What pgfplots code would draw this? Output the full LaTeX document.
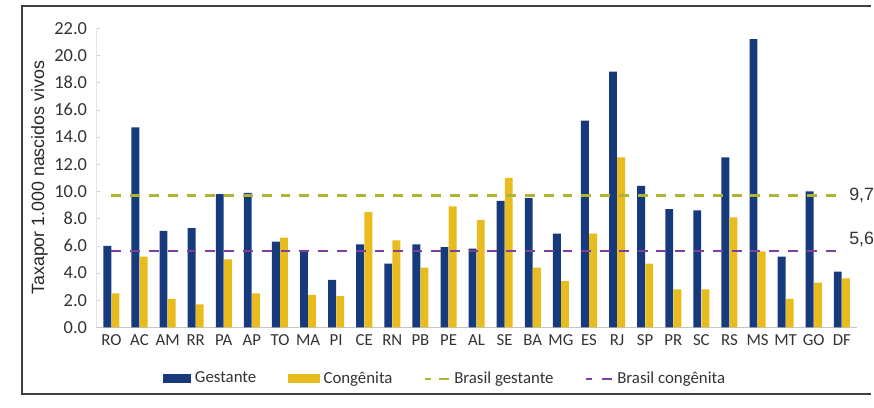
\documentclass[border=0pt]{standalone}
\usepackage{fontspec}
\setmainfont{Carlito}
\newfontfamily\arialf{Liberation Sans}
\usepackage{pgfplots}
\pgfplotsset{compat=1.18}

\definecolor{gestblue}{RGB}{22,58,124}
\definecolor{congyel}{RGB}{232,188,30}
\definecolor{brgest}{RGB}{176,180,52}
\definecolor{brcong}{RGB}{124,64,158}

% taxa por 1.000 nascidos vivos, por UF
\pgfplotstableread{
x uf gest cong
0  RO 6.0  2.5
1  AC 14.7 5.2
2  AM 7.1  2.1
3  RR 7.3  1.7
4  PA 9.8  5.0
5  AP 9.9  2.5
6  TO 6.3  6.6
7  MA 5.6  2.4
8  PI 3.5  2.3
9  CE 6.1  8.5
10 RN 4.7  6.4
11 PB 6.1  4.4
12 PE 5.9  8.9
13 AL 5.8  7.9
14 SE 9.3  11.0
15 BA 9.5  4.4
16 MG 6.9  3.4
17 ES 15.2 6.9
18 RJ 18.8 12.5
19 SP 10.4 4.7
20 PR 8.7  2.8
21 SC 8.6  2.8
22 RS 12.5 8.1
23 MS 21.2 5.6
24 MT 5.2  2.1
25 GO 10.0 3.3
26 DF 4.1  3.6
}\dados

\begin{document}
\begin{tikzpicture}
\begin{axis}[
  scale only axis,
  width=384.8pt, height=151.25pt,
  at={(48.5pt,40.5pt)}, anchor=south west,
  xmin=-0.55, xmax=26.55,
  ymin=0, ymax=22,
  ytick={0,2,...,22},
  xtick=data,
  xticklabels from table={\dados}{uf},
  axis x line*=bottom,
  axis y line*=left,
  x axis line style={draw=gray!45},
  y axis line style={draw=gray!20},
  major tick length=2pt,
  xtick style={draw=none},
  ytick style={draw=gray!35},
  tick label style={font=\fontsize{8.5}{10}\selectfont, text=black!80},
  yticklabel style={font=\fontsize{9.3}{11}\selectfont, xshift=-1pt,
    /pgf/number format/.cd, fixed, fixed zerofill, precision=1, assume math mode=true},
  ylabel={\arialf Taxapor 1.000 nascidos vivos},
  ylabel style={font=\fontsize{9}{11}\selectfont, text=black!85,
    at={(axis description cs:-0.074,0.5)}, anchor=center},
  bar width=0.28,
  legend columns=4,
  legend style={at={(0.46,-0.172)}, anchor=center, draw=none, fill=none,
    font=\fontsize{8.5}{10}\selectfont, text=black!80,
    /tikz/every even column/.append style={column sep=14pt}},
  legend cell align=left,
  clip=false,
]
\addplot[ybar, bar shift=-0.145, fill=gestblue, draw=none,
  legend image code/.code={\fill[gestblue] (0pt,-2.3pt) rectangle (14pt,2.3pt);}]
  table[x=x, y=gest] {\dados};
\addlegendentry{Gestante}
\addplot[ybar, bar shift=0.145, fill=congyel, draw=none,
  legend image code/.code={\fill[congyel] (0pt,-2.3pt) rectangle (16pt,2.3pt);}]
  table[x=x, y=cong] {\dados};
\addlegendentry{Congênita}
\addplot[brgest, line width=1.2pt, dash pattern=on 5pt off 4.5pt,
  legend image code/.code={\draw[brgest, line width=1.2pt] (0pt,0pt) -- (3pt,0pt) (7pt,0pt) -- (12pt,0pt);}]
  coordinates {(0,9.7) (26,9.7)};
\addlegendentry{Brasil gestante}
\addplot[brcong, line width=1.2pt, dash pattern=on 5pt off 4.5pt,
  legend image code/.code={\draw[brcong, line width=1.2pt] (0pt,0pt) -- (3pt,0pt) (8pt,0pt) -- (13pt,0pt);}]
  coordinates {(0,5.6) (26,5.6)};
\addlegendentry{Brasil congênita}
\node[anchor=west, font=\arialf\fontsize{9}{11}\selectfont, text=black!80, inner sep=0pt] at (axis cs:26.25,9.7) {9,7};
\node[anchor=west, font=\arialf\fontsize{9}{11}\selectfont, text=black!80, inner sep=0pt] at (axis cs:26.25,6.5) {5,6};
\end{axis}
\draw[black!75, line width=0.8pt] (440pt,203pt) -- (11pt,203pt) -- (11pt,7pt) -- (440pt,7pt);
\path[use as bounding box] (0pt,0pt) rectangle (437pt,206pt);
\end{tikzpicture}
\end{document}
